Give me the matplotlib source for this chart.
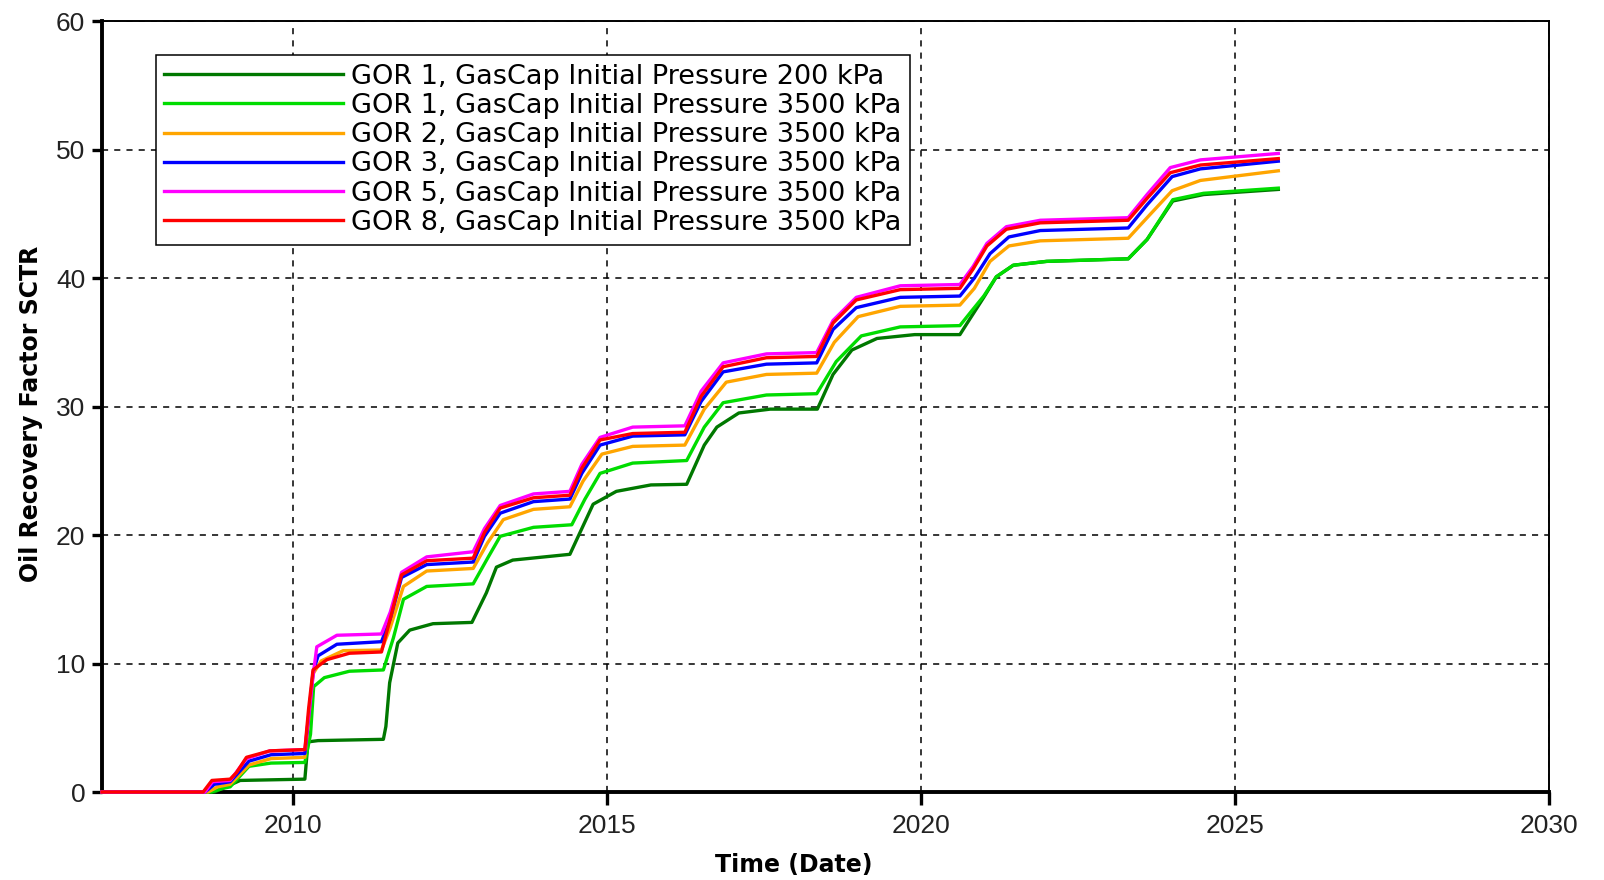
import matplotlib.pyplot as plt

# time in decimal years
yr_red = [2006.96, 2008.57, 2008.71, 2009.0, 2009.1, 2009.26, 2009.63, 2010.19, 2010.25, 2010.32,
          2010.54, 2010.9, 2011.41, 2011.55, 2011.73, 2012.13, 2012.87, 2013.05, 2013.3, 2013.83,
          2014.41, 2014.6, 2014.89, 2015.41, 2016.24, 2016.5, 2016.85, 2017.54, 2018.34, 2018.6,
          2018.97, 2019.67, 2020.62, 2020.83, 2021.05, 2021.36, 2021.9, 2023.3, 2023.6, 2023.97,
          2024.45, 2025.69]
rf_red = [0, 0, 0.9, 1.0, 1.5, 2.7, 3.2, 3.3, 6.5, 9.5,
          10.3, 10.8, 10.9, 13.5, 16.9, 18.0, 18.2, 20.2, 22.1, 22.9,
          23.1, 25.2, 27.4, 27.9, 28.0, 30.8, 33.1, 33.8, 33.9, 36.5,
          38.3, 39.1, 39.2, 40.7, 42.5, 43.8, 44.3, 44.5, 46.2, 48.2,
          48.8, 49.3]

yr_mag = [2006.96, 2008.6, 2008.72, 2009.0, 2009.26, 2009.63, 2010.19, 2010.32, 2010.38, 2010.7,
          2011.41, 2011.55, 2011.73, 2012.13, 2012.87, 2013.05, 2013.3, 2013.83, 2014.41, 2014.6,
          2014.89, 2015.41, 2016.24, 2016.5, 2016.85, 2017.54, 2018.34, 2018.6, 2018.97, 2019.67,
          2020.62, 2020.83, 2021.05, 2021.36, 2021.9, 2023.3, 2023.6, 2023.97, 2024.45, 2025.69]
rf_mag = [0, 0, 0.8, 0.9, 2.6, 3.2, 3.3, 9.0, 11.3, 12.2,
          12.3, 14.0, 17.1, 18.3, 18.7, 20.5, 22.3, 23.2, 23.4, 25.5,
          27.6, 28.4, 28.5, 31.2, 33.4, 34.1, 34.2, 36.7, 38.5, 39.4,
          39.5, 40.9, 42.7, 44.0, 44.5, 44.7, 46.5, 48.6, 49.2, 49.7]

yr_blue = [2006.96, 2008.6, 2008.75, 2009.0, 2009.3, 2009.65, 2010.19, 2010.32, 2010.4, 2010.7,
           2011.41, 2011.55, 2011.73, 2012.13, 2012.87, 2013.05, 2013.3, 2013.83, 2014.41, 2014.6,
           2014.89, 2015.41, 2016.24, 2016.5, 2016.85, 2017.54, 2018.34, 2018.6, 2018.97, 2019.67,
           2020.62, 2020.85, 2021.1, 2021.4, 2021.9, 2023.3, 2023.6, 2024.0, 2024.45, 2025.69]
rf_blue = [0, 0, 0.6, 0.8, 2.4, 2.9, 3.0, 9.3, 10.6, 11.5,
           11.7, 13.5, 16.7, 17.7, 17.9, 19.9, 21.7, 22.6, 22.8, 24.8,
           27.0, 27.7, 27.8, 30.4, 32.7, 33.3, 33.4, 36.0, 37.7, 38.5,
           38.6, 40.0, 41.9, 43.2, 43.7, 43.9, 45.7, 47.9, 48.5, 49.1]

yr_orange = [2006.96, 2008.65, 2008.8, 2009.0, 2009.3, 2009.65, 2010.19, 2010.32, 2010.45, 2010.8,
             2011.41, 2011.55, 2011.76, 2012.13, 2012.87, 2013.1, 2013.35, 2013.83, 2014.41, 2014.62,
             2014.92, 2015.41, 2016.24, 2016.55, 2016.9, 2017.54, 2018.34, 2018.62, 2019.0, 2019.67,
             2020.62, 2020.85, 2021.1, 2021.4, 2021.9, 2023.3, 2023.62, 2024.0, 2024.45, 2025.69]
rf_orange = [0, 0, 0.4, 0.6, 2.1, 2.6, 2.7, 9.2, 10.2, 11.0,
             11.05, 12.8, 16.0, 17.2, 17.4, 19.4, 21.2, 22.0, 22.2, 24.2,
             26.3, 26.9, 27.0, 29.8, 31.9, 32.5, 32.6, 35.0, 37.0, 37.8,
             37.9, 39.2, 41.3, 42.5, 42.9, 43.1, 44.8, 46.8, 47.6, 48.35]

yr_lgreen = [2006.96, 2008.7, 2008.9, 2009.0, 2009.15, 2009.3, 2009.65, 2010.19, 2010.28, 2010.33,
             2010.5, 2010.9, 2011.44, 2011.6, 2011.76, 2012.13, 2012.87, 2013.1, 2013.3, 2013.83,
             2014.44, 2014.65, 2014.89, 2015.41, 2016.27, 2016.55, 2016.85, 2017.54, 2018.34, 2018.65,
             2019.05, 2019.67, 2020.62, 2020.8, 2021.0, 2021.2, 2021.47, 2022.0, 2023.3, 2023.6,
             2024.01, 2024.5, 2025.69]
rf_lgreen = [0, 0, 0.3, 0.4, 1.2, 2.0, 2.25, 2.3, 4.5, 8.2,
             8.9, 9.4, 9.5, 12.0, 15.0, 16.0, 16.2, 18.2, 19.9, 20.6,
             20.8, 22.8, 24.8, 25.6, 25.8, 28.4, 30.3, 30.9, 31.0, 33.5,
             35.5, 36.2, 36.3, 37.4, 38.6, 40.1, 41.0, 41.3, 41.5, 43.0,
             46.1, 46.6, 47.0]

yr_dgreen = [2006.96, 2008.75, 2009.16, 2010.19, 2010.24, 2010.4, 2011.44, 2011.48, 2011.54, 2011.67,
             2011.86, 2012.23, 2012.85, 2013.08, 2013.24, 2013.5, 2014.41, 2014.78, 2015.15, 2015.7,
             2016.27, 2016.55, 2016.75, 2017.1, 2017.6, 2018.35, 2018.6, 2018.9, 2019.3, 2019.9,
             2020.62, 2020.75, 2021.0, 2021.2, 2021.47, 2022.0, 2023.3, 2023.6, 2024.01, 2024.5,
             2025.69]
rf_dgreen = [0, 0, 0.9, 1.0, 3.9, 4.0, 4.1, 5.1, 8.5, 11.6,
             12.6, 13.1, 13.2, 15.5, 17.5, 18.05, 18.5, 22.4, 23.4, 23.9,
             23.95, 27.0, 28.4, 29.5, 29.8, 29.8, 32.5, 34.4, 35.3, 35.6,
             35.6, 36.6, 38.5, 40.1, 41.0, 41.3, 41.5, 43.0, 46.0, 46.5,
             46.9]

labels = ["GOR 1, GasCap Initial Pressure 200 kPa",
          "GOR 1, GasCap Initial Pressure 3500 kPa",
          "GOR 2, GasCap Initial Pressure 3500 kPa",
          "GOR 3, GasCap Initial Pressure 3500 kPa",
          "GOR 5, GasCap Initial Pressure 3500 kPa",
          "GOR 8, GasCap Initial Pressure 3500 kPa"]
colors = ["#007800", "#00dc00", "#ffa500", "#0000ff", "#ff00ff", "#ff0000"]
series = [(yr_dgreen, rf_dgreen), (yr_lgreen, rf_lgreen), (yr_orange, rf_orange),
          (yr_blue, rf_blue), (yr_mag, rf_mag), (yr_red, rf_red)]

xticks = [2010, 2015, 2020, 2025, 2030]
yticks = [0, 10, 20, 30, 40, 50, 60]

plt.rcParams['font.family'] = ['Liberation Sans', 'DejaVu Sans']

fig = plt.figure(figsize=(16.04, 8.8), dpi=100)
ax = fig.add_axes([0.0636, 0.1, 0.9021, 0.876])

for (x, y), c, lab in zip(series, colors, labels):
    ax.plot(x, y, color=c, lw=2.4, label=lab, zorder=3, clip_on=False)

ax.set_xlim(2006.96, 2030)
ax.set_ylim(0, 60)
ax.set_xticks(xticks)
ax.set_yticks(yticks)
ax.grid(True, color='black', lw=1.1, linestyle=(0, (4, 4)))

for s in ['left', 'bottom']:
    ax.spines[s].set_linewidth(2.8)
for s in ['top', 'right']:
    ax.spines[s].set_linewidth(1.4)

ax.tick_params(axis='x', direction='out', length=9, width=2.4, labelsize=19,
               labelcolor='#222222', pad=7)
ax.tick_params(axis='y', direction='out', length=7, width=2.4, labelsize=19,
               labelcolor='#222222', pad=5)

ax.set_xlabel("Time (Date)", fontsize=17, fontweight='bold', family='DejaVu Sans')
ax.xaxis.set_label_coords(0.478, -0.079)
ax.set_ylabel("Oil Recovery Factor SCTR", fontsize=17, fontweight='bold', family='DejaVu Sans')
ax.yaxis.set_label_coords(-0.041, 0.49)

leg = ax.legend(loc='upper left', bbox_to_anchor=(0.037, 0.956), borderaxespad=0,
                fancybox=False, framealpha=1, edgecolor='black',
                handlelength=6.6, handletextpad=0.3, labelspacing=0.12, borderpad=0.32,
                prop={'family': 'DejaVu Sans', 'size': 19.5})
leg.get_frame().set_linewidth(1.1)
for ln in leg.get_lines():
    ln.set_linewidth(2.4)

fig.savefig("out.png", dpi=100)
